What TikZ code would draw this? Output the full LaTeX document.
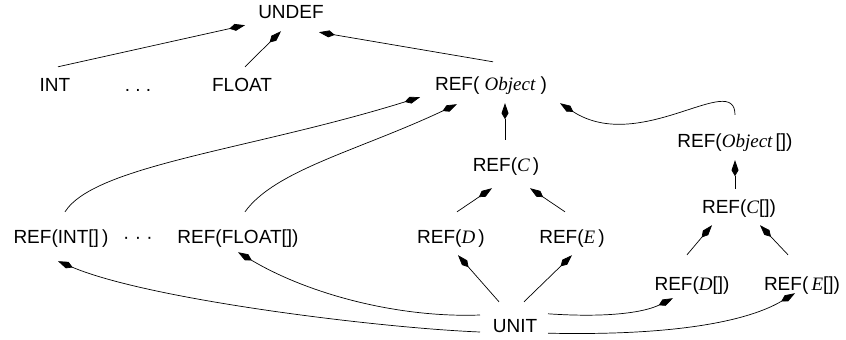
\documentclass[tikz,border=0pt]{standalone}
\usepackage{fontspec}
\setmainfont{Liberation Sans}
\newfontfamily\seriffam{Liberation Serif}
\newcommand{\tv}[1]{{\seriffam\itshape #1}}
\usepackage{tikz}
\usetikzlibrary{arrows.meta}

\begin{document}
\begin{tikzpicture}[x=1pt, y=-1pt,
    every node/.style={font=\fontsize{19}{22}\selectfont, anchor=base, inner xsep=4pt, inner ysep=10pt, text height=14pt, text depth=4pt},
    isa/.style={-{Kite[length=16pt,width=7pt,inset=6pt]}, line width=0.7pt}]
    \useasboundingbox (0,0) rectangle (846,340);

    % Top of the lattice
    \node (undef) at (291,19) {UNDEF};

    % Primitive types
    \node (int) at (55,91) {INT};
    \node (dotsa) at (138,91) {.\ .\ .};
    \node (float) at (242,91) {FLOAT};

    % Class references
    \node (obj) at (491,90) {REF( \tv{Object} )};
    \node (refc) at (506,171) {REF(\tv{C}\,)};
    \node (refd) at (451,243) {REF(\tv{D}\,)};
    \node (refe) at (572,243) {REF(\tv{E}\,)};

    % Array references
    \node (obja) at (735,147) {REF(\tv{Object}\,[])};
    \node (refca) at (739,213) {REF(\tv{C}[])};
    \node (refda) at (692,290) {REF(\tv{D}[])};
    \node (refea) at (802,290) {REF(\,\tv{E}[])};
    \node (inta) at (61,243) {REF(INT[]\,)};
    \node (dotsb) at (138,243) {\textperiodcentered\ \textperiodcentered\ \textperiodcentered};
    \node (floata) at (238,243) {REF(FLOAT[])};

    % Bottom of the lattice
    \node (unit) at (515,332) {UNIT};

    % Upper edges
    \draw[isa] ([xshift=3pt]int.north) -- ([xshift=-46pt,yshift=8pt]undef.south);
    \draw[isa] ([xshift=3pt]float.north) -- ([xshift=-10pt,yshift=2pt]undef.south);
    \draw[isa] ([xshift=2pt,yshift=4pt]obj.north) -- ([xshift=28pt,yshift=1pt]undef.south);
    \draw[isa] ([xshift=-1pt,yshift=7pt]refc.north) -- ([xshift=14pt,yshift=1pt]obj.south);
    \draw[isa] ([yshift=8pt]obja.north) .. controls (735,70) and (640,155) .. ([xshift=69pt,yshift=1pt]obj.south);
    \draw[isa] ([xshift=-4pt]refca.north) -- ([yshift=1pt]obja.south);
    \draw[isa] ([xshift=4pt,yshift=7pt]inta.north) .. controls (95,165) and (250,150) .. ([xshift=-71pt,yshift=7pt]obj.south);
    \draw[isa] ([xshift=7pt,yshift=7pt]floata.north) .. controls (275,170) and (360,150) .. ([xshift=-34pt]obj.south);

    % Subclass edges
    \draw[isa] ([xshift=6pt,yshift=7pt]refd.north) -- ([xshift=-14pt,yshift=-3pt]refc.south);
    \draw[isa] ([xshift=-7pt,yshift=7pt]refe.north) -- ([xshift=24pt,yshift=-3pt]refc.south);
    \draw[isa] ([xshift=-5pt,yshift=11pt]refda.north) -- ([xshift=-27pt,yshift=2pt]refca.south);
    \draw[isa] ([xshift=-14pt,yshift=11pt]refea.north) -- ([xshift=21pt,yshift=2pt]refca.south);

    % Edges out of UNIT
    \draw[isa] ([xshift=-16pt,yshift=6pt]unit.north) -- ([xshift=7pt,yshift=2pt]refd.south);
    \draw[isa] ([xshift=9pt,yshift=6pt]unit.north) -- ([yshift=2pt]refe.south);
    \draw[isa] ([xshift=33pt,yshift=-6pt]unit.north) .. controls (610,318) and (645,312) .. ([xshift=-19pt,yshift=6pt]refda.south);
    \draw[isa] ([xshift=33pt,yshift=13pt]unit.south) .. controls (680,336) and (750,320) .. ([xshift=-7pt,yshift=11pt]refea.south);
    \draw[isa] ([xshift=-35pt,yshift=-5pt]unit.center) .. controls (380,328) and (150,300) .. ([xshift=-3pt,yshift=-4pt]inta.south);
    \draw[isa] ([xshift=-35pt,yshift=12pt]unit.center) .. controls (400,318) and (310,295) .. ([yshift=5pt]floata.south);
\end{tikzpicture}
\end{document}
